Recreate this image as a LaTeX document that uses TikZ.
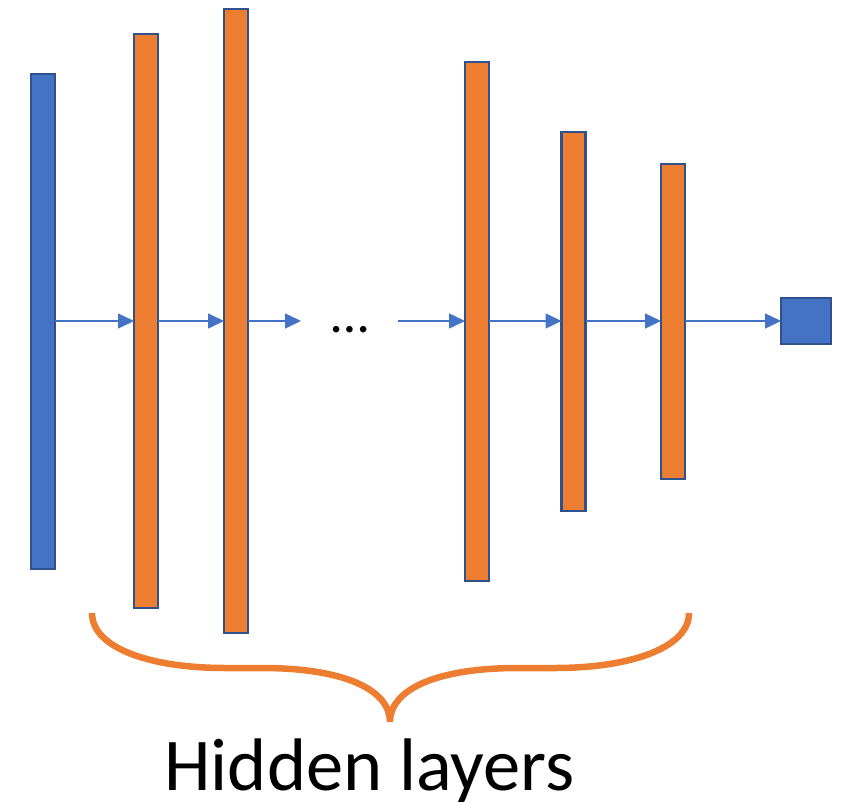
\documentclass[tikz,border=0pt]{standalone}
\usepackage{fontspec}
\setmainfont{Carlito}
\usetikzlibrary{arrows.meta}
\definecolor{oblue}{HTML}{4472C4}
\definecolor{oborder}{HTML}{2F528F}
\definecolor{oorange}{HTML}{ED7D31}
\tikzset{
  layerbar/.style={draw=oborder, line width=2.5pt, outer sep=0pt, inner sep=0pt, minimum width=24pt},
  bluebar/.style={layerbar, fill=oblue},
  orangebar/.style={layerbar, fill=oorange},
  flow/.style={draw=oblue, line width=1.5pt, -{Triangle[length=16pt,width=15pt]}},
}
\begin{document}
\begin{tikzpicture}[x=1pt,y=-1pt]
\useasboundingbox (0,0) rectangle (844,803);
\node[bluebar, minimum height=495pt] (in) at (43,321.5) {};
\node[orangebar, minimum height=574pt] (h1) at (146,321) {};
\node[orangebar, minimum height=624pt] (h2) at (236,321) {};
\node[orangebar, minimum height=519pt] (h3) at (477,321.5) {};
\node[orangebar, minimum height=379pt] (h4) at (573.5,321.5) {};
\node[orangebar, minimum height=315pt] (h5) at (673,321.5) {};
\node[bluebar, minimum width=50pt, minimum height=46pt] (out) at (806,321) {};
\coordinate (gapA) at (301,321);
\coordinate (gapB) at (398,321);
\node[font=\fontsize{54}{54}\selectfont, anchor=base] (dots) at (350,332) {…};
\draw[flow] (in.east |- 0,321) -- (h1.west |- 0,321);
\draw[flow] (h1.east |- 0,321) -- (h2.west |- 0,321);
\draw[flow] (h2.east |- 0,321) -- (gapA);
\draw[flow] (gapB) -- (h3.west |- 0,321);
\draw[flow] (h3.east |- 0,321) -- (h4.west |- 0,321);
\draw[flow] (h4.east |- 0,321) -- (h5.west |- 0,321);
\draw[flow] (h5.east |- 0,321) -- (out.west);
\draw[oorange, line width=6.5pt]
  (92,613) .. controls (92,648) and (150,668) .. (225,668) -- (262,668)
  .. controls (345,668) and (390,690) .. (390,722)
  .. controls (390,690) and (435,668) .. (518,668) -- (555,668)
  .. controls (630,668) and (689,648) .. (689,613);
\node[font=\fontsize{74.5}{74.5}\selectfont, anchor=base] (label) at (369.5,790) {Hidden layers};
\end{tikzpicture}
\end{document}
